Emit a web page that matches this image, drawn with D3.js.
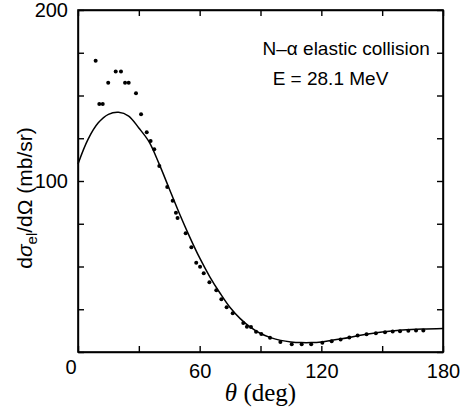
<!DOCTYPE html>
<html>
<head>
<meta charset="utf-8">
<script src="https://cdn.jsdelivr.net/npm/d3@7"></script>
<style>
  body { margin: 0; background: #fff; }
  svg { display: block; }
  .ax text { font-family: "Liberation Sans", Arial, sans-serif; font-size: 20px; fill: #000; }
</style>
</head>
<body>
<div id="wrapper"></div>
<script>
// measured points (theta in deg, cross section in mb/sr)
const thetaExp = [8.7, 10.5, 12.2, 14.9, 18.6, 21.2, 23.2, 25.0, 28.6, 31.1, 33.9, 35.8, 37.6, 40.1,
  44.0, 46.7, 48.3, 49.1, 53.1, 55.9, 58.3, 60.2, 62.0, 64.8, 68.2, 70.7, 73.3, 76.3, 81.5, 83.3,
  85.3, 87.8, 90.4, 94.7, 99.8, 105.4, 110.3, 115.0, 120.5, 125.1, 129.5, 133.8, 137.9, 142.3,
  146.9, 151.4, 155.2, 158.8, 162.9, 166.7, 170.3];
const sigmaExp = [170.3, 145, 145, 157.5, 164, 164, 157.5, 157.5, 151.3, 139, 128.5, 123.4, 118.5, 108.8,
  96.5, 88.5, 81.5, 78.4, 69.4, 61.2, 52.2, 49.9, 46.0, 40.8, 36.1, 30.8, 26.1, 22.6, 17.0, 14.8,
  14.6, 11.9, 10.5, 8.4, 5.8, 4.5, 4.5, 4.5, 5.4, 6.3, 7.3, 8.5, 9.7, 10.4,
  11.0, 11.6, 12.0, 12.2, 12.4, 12.6, 12.6];

// calculated curve
const thetaCalc = [0, 5, 10, 15, 20, 25, 30, 35, 40, 45, 50, 55, 60, 65, 70, 75, 80, 85, 90, 95,
  100, 105, 110, 115, 120, 130, 140, 150, 160, 170, 180];
const sigmaCalc = [110, 124.5, 134, 139, 140.2, 138, 131, 123, 110, 95.5, 81, 67.5, 55, 44, 34.5, 26, 19.5, 14.5, 10.8, 8.4,
  6.8, 5.9, 5.5, 5.5, 5.9, 7.7, 9.9, 11.7, 12.8, 13.4, 13.7];

const xTicks = [0, 30, 60, 90, 120, 150, 180];
const xLabels = [60, 120, 180];
const yTicks = [0, 25, 50, 75, 100, 125, 150, 175, 200];
const yLabels = [100, 200];

const width = 461, height = 411;
const margin = {top: 10, right: 18, bottom: 59, left: 78};
const w = width - margin.left - margin.right;
const h = height - margin.top - margin.bottom;

const svg = d3.select("#wrapper").append("svg")
  .attr("width", width).attr("height", height);
const g = svg.append("g").attr("transform", `translate(${margin.left},${margin.top})`);

const x = d3.scaleLinear().domain([0, 180]).range([0, w]);
const y = d3.scaleLinear().domain([0, 200]).range([h, 0]);

const tickLen = 6;
const xFmt = d => xLabels.includes(d) ? d : "";
const yFmt = d => yLabels.includes(d) ? d : "";

// frame
g.append("rect")
  .attr("width", w).attr("height", h)
  .attr("fill", "none")
  .attr("stroke", "#000")
  .attr("stroke-width", 1.6);

g.append("g").attr("class", "ax").attr("transform", `translate(0,${h})`)
  .call(d3.axisBottom(x).tickValues(xTicks).tickSizeInner(-tickLen).tickSizeOuter(0).tickPadding(12).tickFormat(xFmt));
g.append("g").attr("class", "ax")
  .call(d3.axisTop(x).tickValues(xTicks).tickSizeInner(-tickLen).tickSizeOuter(0).tickFormat(() => ""));
g.append("g").attr("class", "ax")
  .call(d3.axisLeft(y).tickValues(yTicks).tickSizeInner(-tickLen).tickSizeOuter(0).tickPadding(10).tickFormat(yFmt));
g.append("g").attr("class", "ax").attr("transform", `translate(${w},0)`)
  .call(d3.axisRight(y).tickValues(yTicks).tickSizeInner(-tickLen).tickSizeOuter(0).tickFormat(() => ""));

g.selectAll(".ax path, .ax line")
  .attr("stroke", "#000")
  .attr("stroke-width", 1.4);

// shared zero in the corner
g.append("text")
  .attr("x", -7).attr("y", h + 22)
  .attr("text-anchor", "middle")
  .style("font-family", "Liberation Sans, Arial, sans-serif")
  .style("font-size", "20px")
  .text("0");

// curve
const calc = thetaCalc.map((t, i) => ({t: t, s: sigmaCalc[i]}));
g.append("path")
  .datum(calc)
  .attr("fill", "none")
  .attr("stroke", "#000")
  .attr("stroke-width", 1.5)
  .attr("d", d3.line().x(d => x(d.t)).y(d => y(d.s)).curve(d3.curveCatmullRom));

// points
const exp = thetaExp.map((t, i) => ({t: t, s: sigmaExp[i]}));
g.selectAll("circle.pt")
  .data(exp)
  .enter()
  .append("circle")
  .attr("class", "pt")
  .attr("cx", d => x(d.t))
  .attr("cy", d => y(d.s))
  .attr("r", 2)
  .attr("fill", "#000");

// legend text
const note = g.append("g")
  .style("font-family", "Liberation Sans, Arial, sans-serif")
  .style("font-size", "19px");
note.append("text").attr("x", x(91)).attr("y", 45).text("N–α elastic collision");
note.append("text").attr("x", x(96)).attr("y", 75).text("E = 28.1 MeV");

// axis titles
const xt = svg.append("text")
  .attr("x", margin.left + x(90))
  .attr("y", 401)
  .attr("text-anchor", "middle")
  .style("font-family", "Liberation Serif, Times New Roman, serif")
  .style("font-size", "25px");
xt.append("tspan").style("font-style", "italic").text("θ");
xt.append("tspan").text(" (deg)");

const yt = svg.append("text")
  .attr("transform", `translate(32,${margin.top + h / 2 + 17}) rotate(-90)`)
  .attr("text-anchor", "middle")
  .style("font-family", "Liberation Sans, Arial, sans-serif")
  .style("font-size", "21px");
yt.append("tspan").text("d");
yt.append("tspan").style("font-style", "italic").text("σ");
yt.append("tspan").attr("dy", 5).style("font-size", "15px").text("el");
yt.append("tspan").attr("dy", -5).text("/dΩ (mb/sr)");
</script>
</body>
</html>
